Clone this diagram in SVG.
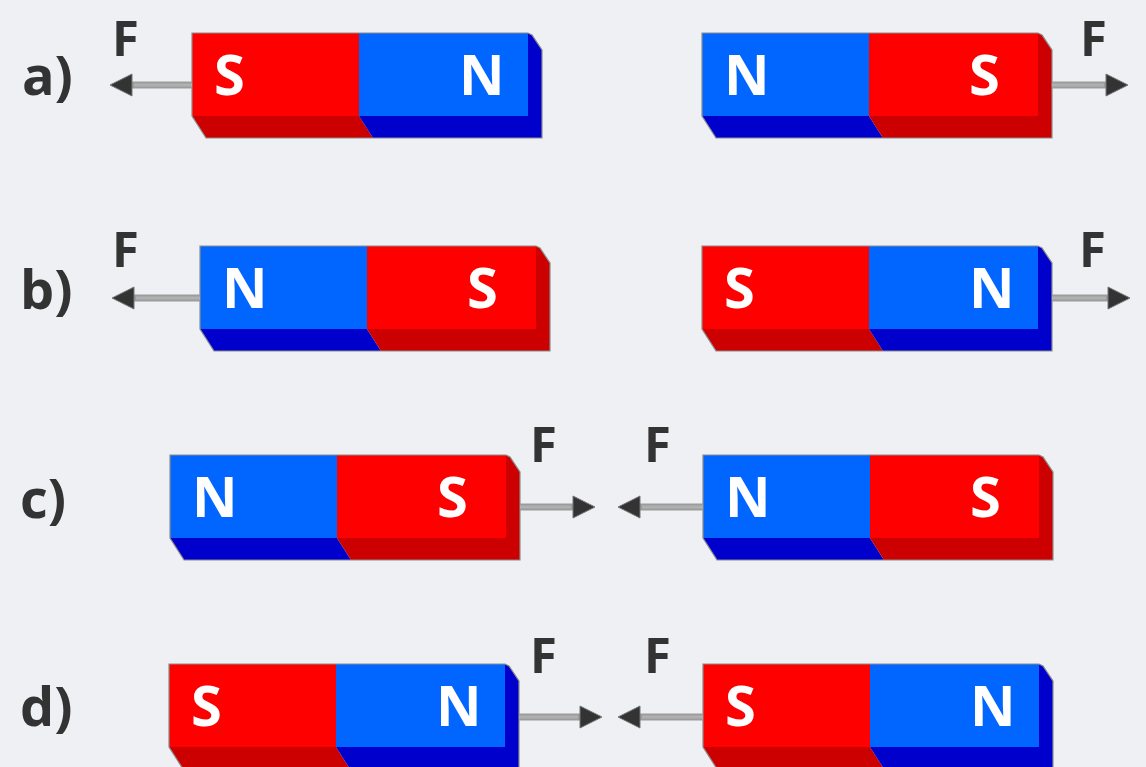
<svg xmlns="http://www.w3.org/2000/svg" width="1146" height="767" viewBox="0 0 1146 767">
<style>
.bg{fill:#eef0f3}
.red{fill:#ff0000}
.blue{fill:#0066ff}
.dred{fill:#cc0000}
.dblue{fill:#0000cc}
.edge{fill:none;stroke:#8c8c8c;stroke-width:1.2}
.pole{font-family:"Open Sans","Liberation Sans",sans-serif;font-weight:bold;font-size:56px;fill:#ffffff}
.lbl{font-family:"Open Sans","Liberation Sans",sans-serif;font-weight:bold;font-size:54px;fill:#333333}
.f{font-family:"Open Sans","Liberation Sans",sans-serif;font-weight:bold;font-size:49px;fill:#333333}
.shaft{stroke:#9c9c9c;stroke-width:7;fill:none}
.shaftc{stroke:#b0b0b0;stroke-width:3;fill:none}
</style>
<defs>
<marker id="head" markerUnits="userSpaceOnUse" viewBox="-2 -13 26 26" markerWidth="26" markerHeight="26" refX="0" refY="0" orient="auto">
<path d="M0,-11 L22,0 L0,11 z" fill="#333333" stroke="#777777" stroke-width="1"/>
</marker>
</defs>
<rect class="bg" x="0" y="0" width="1146" height="767"/>

<g id="labels">
<text class="lbl" x="22" y="95">a)</text>
<text class="lbl" x="20" y="309">b)</text>
<text class="lbl" x="20" y="518">c)</text>
<text class="lbl" x="20" y="726">d)</text>
</g>

<g id="magnet-a-left">
<polygon class="dred" points="192,116 359,116 373,138 206,138"/>
<polygon class="dblue" points="359,116 528,116 528,33 532,35 542,50 542,138 373,138"/>
<rect class="red" x="192" y="33" width="167" height="83"/>
<rect class="blue" x="359" y="33" width="169" height="83"/>
<polygon class="edge" points="192,33 528,33 532,35 542,50 542,138 206,138 192,116"/>
<text class="pole" x="214" y="95">S</text>
<text class="pole" x="459" y="95">N</text>
</g>

<g id="magnet-a-right">
<polygon class="dblue" points="702,116 869,116 883,138 716,138"/>
<polygon class="dred" points="869,116 1038,116 1038,33 1042,35 1052,50 1052,138 883,138"/>
<rect class="blue" x="702" y="33" width="167" height="83"/>
<rect class="red" x="869" y="33" width="169" height="83"/>
<polygon class="edge" points="702,33 1038,33 1042,35 1052,50 1052,138 716,138 702,116"/>
<text class="pole" x="724" y="95">N</text>
<text class="pole" x="969" y="95">S</text>
</g>

<g id="magnet-b-left">
<polygon class="dblue" points="200,329 367,329 381,351 214,351"/>
<polygon class="dred" points="367,329 536,329 536,246 540,248 550,263 550,351 381,351"/>
<rect class="blue" x="200" y="246" width="167" height="83"/>
<rect class="red" x="367" y="246" width="169" height="83"/>
<polygon class="edge" points="200,246 536,246 540,248 550,263 550,351 214,351 200,329"/>
<text class="pole" x="222" y="308">N</text>
<text class="pole" x="467" y="308">S</text>
</g>

<g id="magnet-b-right">
<polygon class="dred" points="702,329 869,329 883,351 716,351"/>
<polygon class="dblue" points="869,329 1038,329 1038,246 1042,248 1052,263 1052,351 883,351"/>
<rect class="red" x="702" y="246" width="167" height="83"/>
<rect class="blue" x="869" y="246" width="169" height="83"/>
<polygon class="edge" points="702,246 1038,246 1042,248 1052,263 1052,351 716,351 702,329"/>
<text class="pole" x="724" y="308">S</text>
<text class="pole" x="969" y="308">N</text>
</g>

<g id="magnet-c-left">
<polygon class="dblue" points="170,538 337,538 351,560 184,560"/>
<polygon class="dred" points="337,538 506,538 506,455 510,457 520,472 520,560 351,560"/>
<rect class="blue" x="170" y="455" width="167" height="83"/>
<rect class="red" x="337" y="455" width="169" height="83"/>
<polygon class="edge" points="170,455 506,455 510,457 520,472 520,560 184,560 170,538"/>
<text class="pole" x="192" y="517">N</text>
<text class="pole" x="437" y="517">S</text>
</g>

<g id="magnet-c-right">
<polygon class="dblue" points="703,538 870,538 884,560 717,560"/>
<polygon class="dred" points="870,538 1039,538 1039,455 1043,457 1053,472 1053,560 884,560"/>
<rect class="blue" x="703" y="455" width="167" height="83"/>
<rect class="red" x="870" y="455" width="169" height="83"/>
<polygon class="edge" points="703,455 1039,455 1043,457 1053,472 1053,560 717,560 703,538"/>
<text class="pole" x="725" y="517">N</text>
<text class="pole" x="970" y="517">S</text>
</g>

<g id="magnet-d-left">
<polygon class="dred" points="169,747 336,747 350,769 183,769"/>
<polygon class="dblue" points="336,747 505,747 505,664 509,666 519,681 519,769 350,769"/>
<rect class="red" x="169" y="664" width="167" height="83"/>
<rect class="blue" x="336" y="664" width="169" height="83"/>
<polygon class="edge" points="169,664 505,664 509,666 519,681 519,769 183,769 169,747"/>
<text class="pole" x="191" y="726">S</text>
<text class="pole" x="436" y="726">N</text>
</g>

<g id="magnet-d-right">
<polygon class="dred" points="703,747 870,747 884,769 717,769"/>
<polygon class="dblue" points="870,747 1039,747 1039,664 1043,666 1053,681 1053,769 884,769"/>
<rect class="red" x="703" y="664" width="167" height="83"/>
<rect class="blue" x="870" y="664" width="169" height="83"/>
<polygon class="edge" points="703,664 1039,664 1043,666 1053,681 1053,769 717,769 703,747"/>
<text class="pole" x="725" y="726">S</text>
<text class="pole" x="970" y="726">N</text>
</g>

<g id="connectors">
<line class="shaft" x1="192" y1="85" x2="132" y2="85" marker-end="url(#head)"/>
<line class="shaft" x1="1052" y1="85" x2="1106" y2="85" marker-end="url(#head)"/>
<line class="shaft" x1="200" y1="298" x2="134" y2="298" marker-end="url(#head)"/>
<line class="shaft" x1="1052" y1="298" x2="1108" y2="298" marker-end="url(#head)"/>
<line class="shaft" x1="520" y1="507" x2="573" y2="507" marker-end="url(#head)"/>
<line class="shaft" x1="703" y1="507" x2="640" y2="507" marker-end="url(#head)"/>
<line class="shaft" x1="519" y1="717" x2="580" y2="717" marker-end="url(#head)"/>
<line class="shaft" x1="703" y1="717" x2="640" y2="717" marker-end="url(#head)"/>
<line class="shaftc" x1="192" y1="85" x2="134" y2="85"/>
<line class="shaftc" x1="1052" y1="85" x2="1104" y2="85"/>
<line class="shaftc" x1="200" y1="298" x2="136" y2="298"/>
<line class="shaftc" x1="1052" y1="298" x2="1106" y2="298"/>
<line class="shaftc" x1="520" y1="507" x2="571" y2="507"/>
<line class="shaftc" x1="703" y1="507" x2="642" y2="507"/>
<line class="shaftc" x1="519" y1="717" x2="578" y2="717"/>
<line class="shaftc" x1="703" y1="717" x2="642" y2="717"/>
</g>

<g id="force-labels">
<text class="f" x="112" y="56">F</text>
<text class="f" x="1080" y="56">F</text>
<text class="f" x="112" y="267">F</text>
<text class="f" x="1079" y="267">F</text>
<text class="f" x="530" y="462">F</text>
<text class="f" x="644" y="462">F</text>
<text class="f" x="530" y="673">F</text>
<text class="f" x="644" y="673">F</text>
</g>
</svg>
